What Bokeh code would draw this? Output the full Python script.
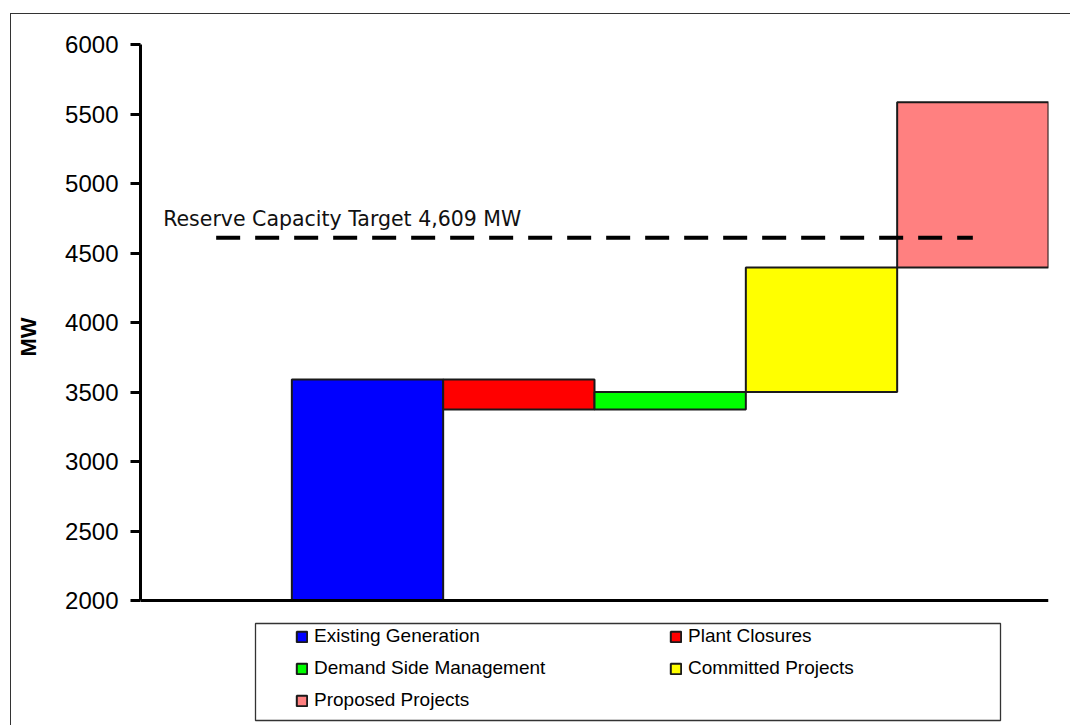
import math
from bokeh.plotting import figure
from bokeh.models import (Range1d, FixedTicker, Legend, LegendItem, Label,
                          BoxAnnotation, ColumnDataSource)
from bokeh.embed import file_html
from bokeh.resources import INLINE

# ---- data ----
categories = ["Existing Generation", "Plant Closures", "Demand Side Management",
              "Committed Projects", "Proposed Projects"]
changes = [3590, -215, 125, 895, 1190]
colors = ["#0000FF", "#FF0000", "#00FF00", "#FFFF00", "#FF8080"]
y_ticks = [2000, 2500, 3000, 3500, 4000, 4500, 5000, 5500, 6000]
y_title = "MW"
target = 4609
target_label = "Reserve Capacity Target 4,609 MW"

# ---- layout constants (pixels, canvas coordinates) ----
W, H = 1060, 712
frame_left, frame_right, frame_top = 129, 1037, 30
axis_bottom_px = 586          # where the value axis ends (y_ticks[0])
frame_bottom = H              # frame extends down to include the legend

y_min, y_max = y_ticks[0], y_ticks[-1]
px_per_unit = (axis_bottom_px - frame_top) / (y_max - y_min)
y_lo = y_min - (frame_bottom - axis_bottom_px) / px_per_unit

# waterfall levels
bottoms, tops = [], []
level = 0
for c in changes:
    new = level + c
    bottoms.append(max(min(level, new), y_min))
    tops.append(max(level, new))
    level = new

n = len(categories)
p = figure(width=W, height=H, x_range=Range1d(0, n + 1),
           y_range=Range1d(y_lo, y_max),
           output_backend="svg", toolbar_location=None,
           min_border_left=frame_left, min_border_right=W - frame_right,
           min_border_top=frame_top, min_border_bottom=0)
p.styles = {"margin-left": "10px", "margin-top": "13px",
            "border-left": "1px solid #333333", "border-top": "1px solid #333333"}
p.xgrid.visible = False
p.ygrid.visible = False
p.xaxis.visible = False
p.outline_line_color = None
p.background_fill_color = "white"
p.border_fill_color = "white"

renderers = []
for i, cat in enumerate(categories):
    src = ColumnDataSource(dict(left=[i + 1], right=[i + 2],
                                bottom=[bottoms[i]], top=[tops[i]]))
    r = p.quad(left="left", right="right", bottom="bottom", top="top",
               source=src, fill_color=colors[i], line_color="#1a1a1a",
               line_width=2)
    renderers.append(r)

# category axis baseline
p.segment(x0=[0], y0=[y_min], x1=[n + 1], y1=[y_min], line_color="black",
          line_width=3)

# reserve target line
p.line(x=[0.5, n + 0.5], y=[target, target], line_color="black",
       line_width=4, line_dash="24 15")
p.add_layout(Label(x=0.5, y=target, x_offset=-53, y_offset=19,
                   text=target_label, text_font="DejaVu Sans",
                   text_font_size="20.5px", text_color="#111111",
                   text_baseline="alphabetic"))

# value axis
ya = p.yaxis[0]
ya.bounds = (y_min, y_max)
ya.ticker = FixedTicker(ticks=y_ticks)
ya.axis_line_width = 3
ya.axis_line_color = "black"
ya.major_tick_line_width = 3
ya.major_tick_out = 10
ya.major_tick_in = 0
ya.minor_tick_line_color = None
ya.major_label_text_font = "Liberation Sans"
ya.major_label_text_font_size = "24px"
ya.major_label_text_color = "black"
ya.major_label_standoff = 12

# axis title (vertical), placed in the left border area
p.add_layout(Label(x=16, y=341, x_units="canvas", y_units="canvas",
                   angle=math.pi / 2, text=y_title, text_align="left",
                   text_baseline="middle", text_font="Liberation Sans",
                   text_font_size="22px", text_font_style="bold",
                   text_color="black"), "left")

# legend
items = [LegendItem(label=categories[i], renderers=[renderers[i]]) for i in range(n)]
legend = Legend(items=items, location=(145, 5), orientation="horizontal",
                ncols=2, glyph_width=13, glyph_height=13, label_standoff=6,
                label_width=345, label_height=21, spacing=10, padding=10,
                margin=0,
                label_text_font="Liberation Sans", label_text_font_size="19px",
                label_text_color="black", border_line_alpha=0,
                background_fill_alpha=0)
p.add_layout(legend, "center")

# legend frame
p.add_layout(BoxAnnotation(left=243, right=988, top=608, bottom=705,
                           left_units="canvas", right_units="canvas",
                           top_units="canvas", bottom_units="canvas",
                           fill_alpha=0, line_color="#333333", line_alpha=1,
                           line_width=1.3))

open("out.html", "w").write(file_html(p, INLINE))
